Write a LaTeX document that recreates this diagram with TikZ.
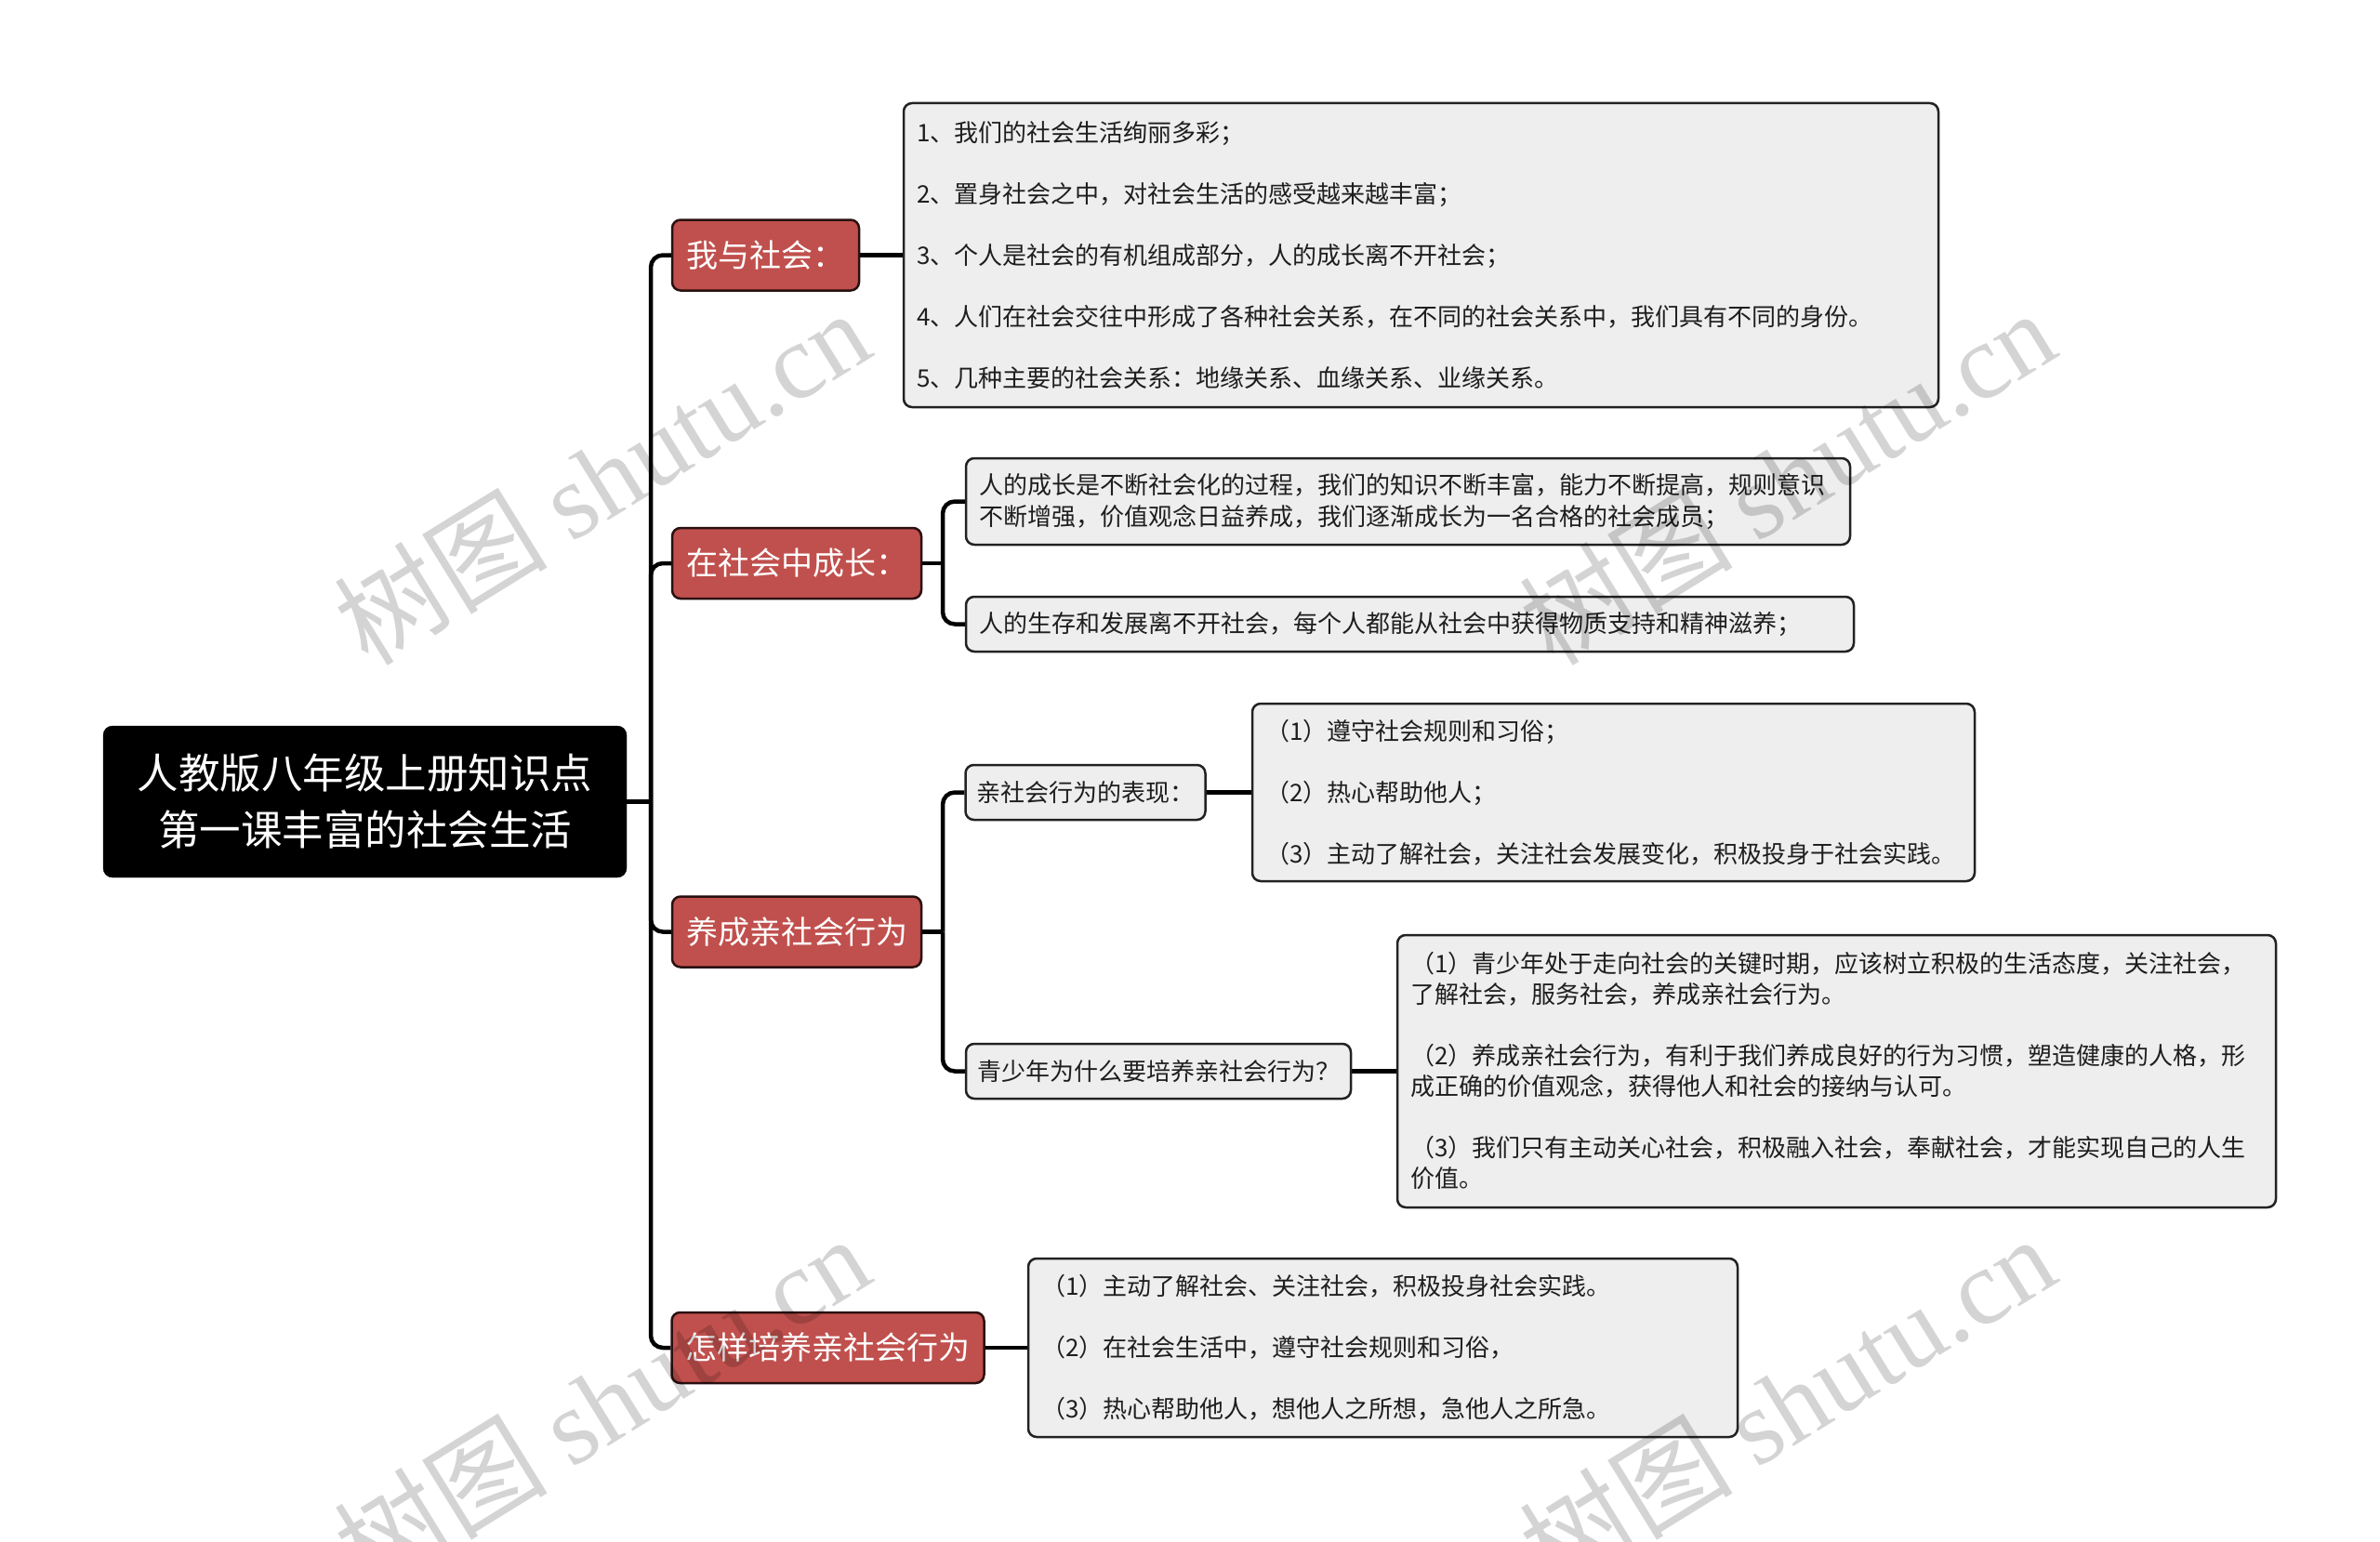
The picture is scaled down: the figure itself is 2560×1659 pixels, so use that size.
\documentclass[tikz,border=0pt]{standalone}
\usepackage{fontspec}
\setmainfont{Noto Sans CJK SC}
\newfontfamily\wmlatin{Liberation Serif}
\newfontfamily\wmcjk{Noto Sans CJK SC}
\usetikzlibrary{backgrounds}
\definecolor{redfill}{HTML}{C0504D}
\definecolor{redborder}{HTML}{2A1010}
\definecolor{leafgray}{HTML}{EEEEEE}
\definecolor{leafborder}{HTML}{222222}
\definecolor{textdark}{HTML}{1E1E1E}
\begin{document}
\begin{tikzpicture}[x=1pt,y=-1pt,
  conn/.style={line width=4.5pt, draw=black, rounded corners=13pt},
  straightconn/.style={line width=4.5pt, draw=black},
  rootbox/.style={fill=black, draw=black, rounded corners=10pt, text=white,
    font=\fontsize{44.5}{61}\selectfont, align=center,
    minimum width=563pt, minimum height=163pt, inner sep=0pt},
  redbox/.style={fill=redfill, draw=redborder, line width=2.5pt, rounded corners=9pt,
    text=white, font=\fontsize{34}{40}\selectfont, inner xsep=15pt, inner ysep=0pt,
    minimum height=76pt},
  leafbox/.style={fill=leafgray, draw=leafborder, line width=2.5pt, rounded corners=9pt,
    text=textdark, font=\fontsize{26}{33}\selectfont, align=left,
    inner xsep=14pt, inner ysep=0pt},
  wm/.style={text=black, text opacity=0.17, rotate=31.7, inner sep=0pt,
    font=\fontsize{115}{120}\selectfont}
]
\useasboundingbox (0,0) rectangle (2560,1659);

% root
\node[rootbox] (root) at (392.5,862.5) {人教版八年级上册知识点\\第一课丰富的社会生活};

% level 1
\node[redbox, minimum width=201pt] (r1) at (823.5,274.5) {我与社会：};
\node[redbox, minimum width=268pt] (r2) at (857,606) {在社会中成长：};
\node[redbox, minimum width=268pt] (r3) at (857,1002.5) {养成亲社会行为};
\node[redbox, minimum width=335pt] (r4) at (890.5,1450) {怎样培养亲社会行为};

% branch 1
\node[leafbox, text width=1085pt, minimum height=327pt] (d1) at (1528.5,274.5)
  {1、我们的社会生活绚丽多彩；\\[33pt]
   2、置身社会之中，对社会生活的感受越来越丰富；\\[33pt]
   3、个人是社会的有机组成部分，人的成长离不开社会；\\[33pt]
   4、人们在社会交往中形成了各种社会关系，在不同的社会关系中，我们具有不同的身份。\\[33pt]
   5、几种主要的社会关系：地缘关系、血缘关系、业缘关系。};

% branch 2
\node[leafbox, text width=923pt, minimum height=93pt, font=\fontsize{26}{34}\selectfont] (a) at (1514.5,539.5)
  {人的成长是不断社会化的过程，我们的知识不断丰富，能力不断提高，规则意识\\
   不断增强，价值观念日益养成，我们逐渐成长为一名合格的社会成员；};
\node[leafbox, text width=927pt, minimum height=59pt] (b) at (1516.5,671.5)
  {人的生存和发展离不开社会，每个人都能从社会中获得物质支持和精神滋养；};

% branch 3
\node[leafbox, minimum height=59pt, inner xsep=12pt] (p1) at (1167.5,852.5) {亲社会行为的表现：};
\node[leafbox, minimum height=59pt, inner xsep=12pt] (q) at (1246,1152.5) {青少年为什么要培养亲社会行为？};
\node[leafbox, text width=749pt, minimum height=191pt] (d3) at (1735.5,852.5)
  {（1）遵守社会规则和习俗；\\[33pt]
   （2）热心帮助他人；\\[33pt]
   （3）主动了解社会，关注社会发展变化，积极投身于社会实践。};
\node[leafbox, text width=917pt, minimum height=293pt] (d4) at (1975.5,1152.5)
  {（1）青少年处于走向社会的关键时期，应该树立积极的生活态度，关注社会，\\
   了解社会，服务社会，养成亲社会行为。\\[33pt]
   （2）养成亲社会行为，有利于我们养成良好的行为习惯，塑造健康的人格，形\\
   成正确的价值观念，获得他人和社会的接纳与认可。\\[33pt]
   （3）我们只有主动关心社会，积极融入社会，奉献社会，才能实现自己的人生\\
   价值。};

% branch 4
\node[leafbox, text width=735pt, minimum height=192pt] (d5) at (1487.5,1450)
  {（1）主动了解社会、关注社会，积极投身社会实践。\\[33pt]
   （2）在社会生活中，遵守社会规则和习俗，\\[33pt]
   （3）热心帮助他人，想他人之所想，急他人之所急。};

% connectors
\coordinate (trunk) at (700,862.5);
\coordinate (s2) at (1014,606);
\coordinate (s3) at (1014,1002.5);
\begin{scope}[on background layer]
  \fill[white] (0,0) rectangle (2560,1659);
  \draw[straightconn] (root.east) -- (trunk);
  \draw[conn] (trunk) |- (r1.west);
  \draw[conn] (trunk) |- (r2.west);
  \draw[conn] (trunk) |- (r3.west);
  \draw[conn] (trunk) |- (r4.west);
  \draw[straightconn] (r1.east) -- (d1.west);
  \draw[straightconn] (r2.east) -- (s2);
  \draw[conn] (s2) |- (a.west);
  \draw[conn] (s2) |- (b.west);
  \draw[straightconn] (r3.east) -- (s3);
  \draw[conn] (s3) |- (p1.west);
  \draw[conn] (s3) |- (q.west);
  \draw[straightconn] (p1.east) -- (d3.west);
  \draw[straightconn] (q.east) -- (d4.west);
  \draw[straightconn] (r4.east) -- (d5.west);
\end{scope}

% watermarks
\node[wm] (wm1) at (647,513) {{\wmcjk 树图} {\wmlatin shutu.cn}};
\node[wm] (wm2) at (1922,513) {{\wmcjk 树图} {\wmlatin shutu.cn}};
\node[wm] (wm3) at (647,1509) {{\wmcjk 树图} {\wmlatin shutu.cn}};
\node[wm] (wm4) at (1922,1509) {{\wmcjk 树图} {\wmlatin shutu.cn}};
\end{tikzpicture}
\end{document}
